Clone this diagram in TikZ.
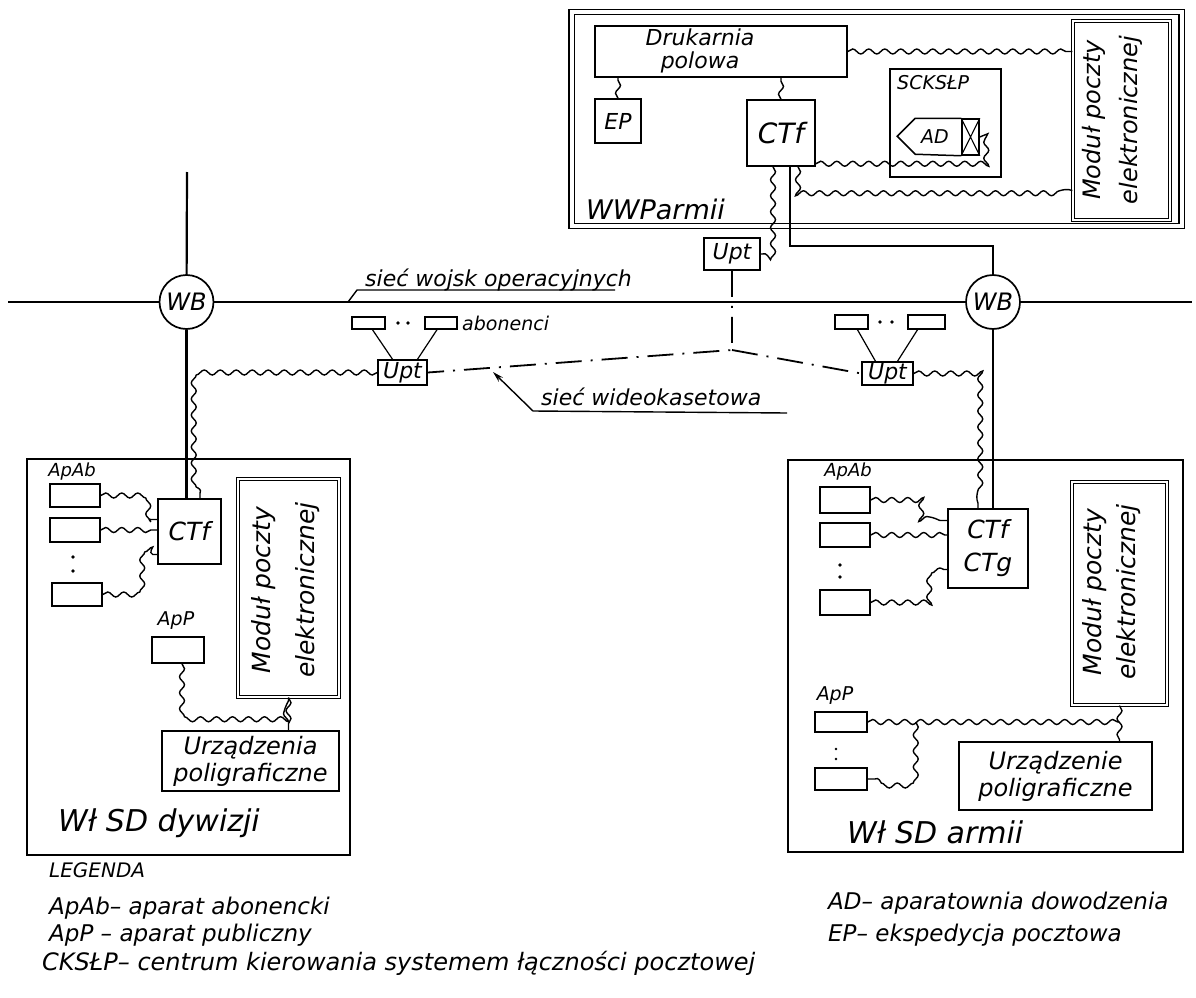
\documentclass[tikz,border=0pt]{standalone}
\usepackage{fontspec}
\setmainfont{DejaVu Sans}
\usetikzlibrary{decorations.pathmorphing,arrows.meta}
\newcommand\hwfont[2]{\fontsize{#1}{#2}\selectfont\itshape}

\begin{document}
\begin{tikzpicture}[x=1pt,y=-1pt,
    box/.style={draw,line width=1.5pt,inner sep=0pt,align=center},
    sz/.style 2 args={minimum width=#1,minimum height=#2},
    modul/.style={draw,double,double distance=2.4pt,line width=1.2pt,inner sep=0pt},
    wavy/.style={line width=1.4pt,decorate,decoration={snake,amplitude=2.5pt,segment length=16pt}},
    net/.style={line width=2.2pt},
    vid/.style={line width=1.8pt,dash pattern=on 26pt off 9pt on 2pt off 9pt},
    txt/.style={inner sep=0pt,align=center}]
  \fill[white] (0,0) rectangle (1196,998);
  \useasboundingbox (0,0) rectangle (1196,998);

  % WWP armii
  \node[draw,double,double distance=4pt,line width=1.3pt,sz={610}{214}] (wwp) at (876.5,119) {};
  \node[box,sz={252}{51}] (druk) at (721,51.5) {};
  \node[txt,font=\hwfont{22}{23}] (drukT) at (700,51) {Drukarnia\\polowa};
  \node[box,sz={46}{44},font=\hwfont{22}{24}] (ep) at (618,121) {EP};
  \node[box,sz={68}{66},font=\hwfont{28}{30}] (tctf) at (781,133) {CTf};
  \node[box,sz={111}{108}] (scks) at (945.5,123) {};
  \node[txt,anchor=west,font=\hwfont{19}{20}] (scksT) at (897,83) {SCKSŁP};
  \node[box,sz={17}{36}] (adx) at (970.5,137) {};
  \node[txt,font=\hwfont{19}{20}] (ad) at (935,137) {AD};
  \draw[line width=1.5pt] (adx.north west) -- ++(-46,0) -- ++(-18,18) -- ++(18,18) -- (adx.south west);
  \draw[line width=1.1pt] (adx.north west) -- (adx.south east) (adx.south west) -- (adx.north east);
  \node[modul,sz={97}{199}] (tmod) at (1121.5,120.5) {};
  \node[txt,rotate=90,font=\hwfont{24}{37}] (tmodT) at (1112,120) {Moduł poczty\\elektronicznej};
  \node[txt,anchor=west,font=\hwfont{27}{30}] (wwpT) at (586,209) {WWParmii};

  \draw[wavy] (ep.north) -- (ep.north |- druk.south);
  \draw[wavy] (tctf.north) -- (tctf.north |- druk.south);
  \draw[wavy] (druk.east) -- (druk.east -| tmod.west);
  \draw[wavy] ([yshift=3pt]tctf.south east) -| ([xshift=8pt]adx.east) -- (adx.east);
  \draw[wavy] ([xshift=17pt]tctf.south) |- ([yshift=-70pt]tmod.west);

  % siec wojsk operacyjnych
  \node[draw,circle,line width=1.7pt,minimum size=54pt,inner sep=0pt,font=\hwfont{24}{26}] (wbl) at (186.5,302) {WB};
  \node[draw,circle,line width=1.7pt,minimum size=54pt,inner sep=0pt,font=\hwfont{24}{26}] (wbr) at (993,302) {WB};
  \coordinate (netL) at (8,302);
  \coordinate (netR) at (1192,302);
  \coordinate (topL) at (187,172);
  \draw[net] (netL) -- (wbl) -- (wbr) -- (netR);
  \draw[net] (topL) -- (wbl);

  \node[box,sz={56}{32},font=\hwfont{22}{24}] (uptt) at (732,254) {Upt};
  \node[box,sz={49}{25},font=\hwfont{22}{24}] (uptl) at (402.5,372.5) {Upt};
  \node[box,sz={51}{23},font=\hwfont{22}{24}] (uptr) at (887.5,373.5) {Upt};
  \coordinate (junc) at (732,350);
  \draw[vid] (uptt.south) -- (junc) -- (uptl.east);
  \draw[vid] (junc) -- (uptr.west);

  \node[box,sz={33}{12}] (al1) at (368.5,323) {};
  \node[box,sz={32}{12}] (al2) at (441,323) {};
  \node[box,sz={33}{14}] (ar1) at (851.5,322) {};
  \node[box,sz={37}{14}] (ar2) at (926.5,322) {};
  \fill (398,323) circle (1.8pt) (408,323) circle (1.8pt);
  \fill (880,322) circle (1.8pt) (892,322) circle (1.8pt);
  \draw[line width=1.2pt] ([xshift=4pt]al1.south) -- ([xshift=-10pt]uptl.north);
  \draw[line width=1.2pt] ([xshift=-4pt]al2.south) -- ([xshift=15pt]uptl.north);
  \draw[line width=1.2pt] ([xshift=6pt]ar1.south) -- ([xshift=-12pt]uptr.north);
  \draw[line width=1.2pt] ([xshift=-9pt]ar2.south) -- ([xshift=10pt]uptr.north);
  \node[txt,anchor=west,font=\hwfont{19}{20}] (abT) at (462,323) {abonenci};

  \coordinate (wo1) at (348,302);
  \coordinate (wo2) at (357,290);
  \coordinate (wo3) at (615,290);
  \draw[line width=1.4pt] (wo1) -- (wo2) -- (wo3);
  \node[txt,anchor=base west,font=\hwfont{22}{24}] (woT) at (365,286) {sieć wojsk operacyjnych};
  \coordinate (wk1) at (493,372);
  \coordinate (wk2) at (533,411);
  \coordinate (wk3) at (787,413);
  \draw[line width=1.4pt,{Stealth[length=11pt,width=6pt]}-] (wk1) -- (wk2) -- (wk3);
  \node[txt,anchor=base west,font=\hwfont{22}{24}] (wkT) at (541,405) {sieć wideokasetowa};

  % Wl SD dywizji
  \node[box,sz={323}{396}] (dyw) at (188.5,657) {};
  \node[txt,font=\hwfont{18}{20}] (lapabT) at (72,472) {ApAb};
  \node[box,sz={50}{23}] (la1) at (75,495.5) {};
  \node[box,sz={50}{24}] (la2) at (75,530) {};
  \node[box,sz={50}{23}] (la3) at (77,594.5) {};
  \fill (73,557) circle (1.8pt) (73,571) circle (1.8pt);
  \node[box,sz={63}{65},font=\hwfont{25}{27}] (lctf) at (189.5,531.5) {CTf};
  \node[modul,sz={101}{218}] (lmod) at (288.5,588) {};
  \node[txt,rotate=90,font=\hwfont{25}{44}] (lmodT) at (285.5,590) {Moduł poczty\\elektronicznej};
  \node[txt,font=\hwfont{19}{20}] (lappT) at (176,621) {ApP};
  \node[box,sz={52}{26}] (lapp) at (178,650) {};
  \node[box,sz={177}{60},font=\hwfont{24}{27}] (lurz) at (250.5,761) {Urządzenia\\poligraficzne};
  \node[txt,anchor=west,font=\hwfont{30}{32}] (dywT) at (58,823) {Wł SD dywizji};

  \draw[net] (wbl) -- (wbl |- lctf.north);
  \draw[wavy] (uptl.west) -| ([xshift=10.5pt]lctf.north);
  \draw[wavy] (la1.east) -- ++(40,0) |- ([yshift=12pt]lctf.west);
  \draw[wavy] (la2.east) -- (la2.east -| lctf.west);
  \draw[wavy] (la3.east) -- ++(36,0) |- ([yshift=-23pt]lctf.west);
  \draw[wavy] ([xshift=4pt]lapp.south) -- ++(0,50) -| (lmod.south);
  \draw[wavy] (lmod.south) -- (lmod.south |- lurz.north);

  % Wl SD armii
  \node[box,sz={395}{392}] (arm) at (985.5,656) {};
  \node[txt,font=\hwfont{18}{20}] (rapabT) at (848,472) {ApAb};
  \node[box,sz={50}{26}] (ra1) at (845,500) {};
  \node[box,sz={50}{24}] (ra2) at (845,535) {};
  \node[box,sz={50}{25}] (ra3) at (845,602.5) {};
  \fill (840,565) circle (1.8pt) (840,577) circle (1.8pt);
  \node[box,sz={80}{79},font=\hwfont{25}{33}] (rctf) at (988,548.5) {CTf\\CTg};
  \node[modul,sz={95}{223}] (rmod) at (1119.5,593.5) {};
  \node[txt,rotate=90,font=\hwfont{25}{34}] (rmodT) at (1112,592) {Moduł poczty\\elektronicznej};
  \node[txt,font=\hwfont{19}{20}] (rappT) at (835,696) {ApP};
  \node[box,sz={52}{20}] (rp1) at (841,722) {};
  \fill (836,749) circle (1.3pt) (836,759) circle (1.3pt);
  \node[box,sz={52}{22}] (rp2) at (841,779) {};
  \node[box,sz={193}{68},font=\hwfont{24}{27}] (rurz) at (1055.5,776) {Urządzenie\\poligraficzne};
  \node[txt,anchor=west,font=\hwfont{30}{32}] (armT) at (847,832) {Wł SD armii};

  \draw[net] ([xshift=9pt]tctf.south) -- ++(0,79) -| (wbr);
  \draw[net] (wbr) -- (wbr |- rctf.north);
  \draw[wavy] ([xshift=-8pt]tctf.south) |- (uptt.east);
  \draw[wavy] (uptr.east) -| ([xshift=-10pt]rctf.north);
  \draw[wavy] (ra1.east) -- ++(50,0) |- ([yshift=28pt]rctf.west);
  \draw[wavy] (ra2.east) -- (ra2.east -| rctf.west);
  \draw[wavy] (ra3.east) -- ++(57,0) |- ([yshift=-21pt]rctf.west);
  \draw[wavy] (rp1.east) -- (rp1.east -| rmod.south);
  \draw[wavy] ([xshift=48pt]rp1.east) |- (rp2.east);
  \draw[wavy] (rmod.south) -- (rmod.south |- rurz.north);

  % LEGENDA
  \node[txt,anchor=west,font=\hwfont{20}{22}] (leg0) at (49,870) {LEGENDA};
  \node[txt,anchor=west,font=\hwfont{23}{25}] (leg1) at (49,908) {ApAb– aparat abonencki};
  \node[txt,anchor=west,font=\hwfont{23}{25}] (leg2) at (49,935) {ApP – aparat publiczny};
  \node[txt,anchor=west,font=\hwfont{24}{26}] (leg3) at (42,963) {CKSŁP– centrum kierowania systemem łączności pocztowej};
  \node[txt,anchor=west,font=\hwfont{23}{25}] (leg4) at (828,903) {AD– aparatownia dowodzenia};
  \node[txt,anchor=west,font=\hwfont{23}{25}] (leg5) at (828,935) {EP– ekspedycja pocztowa};
\end{tikzpicture}
\end{document}
